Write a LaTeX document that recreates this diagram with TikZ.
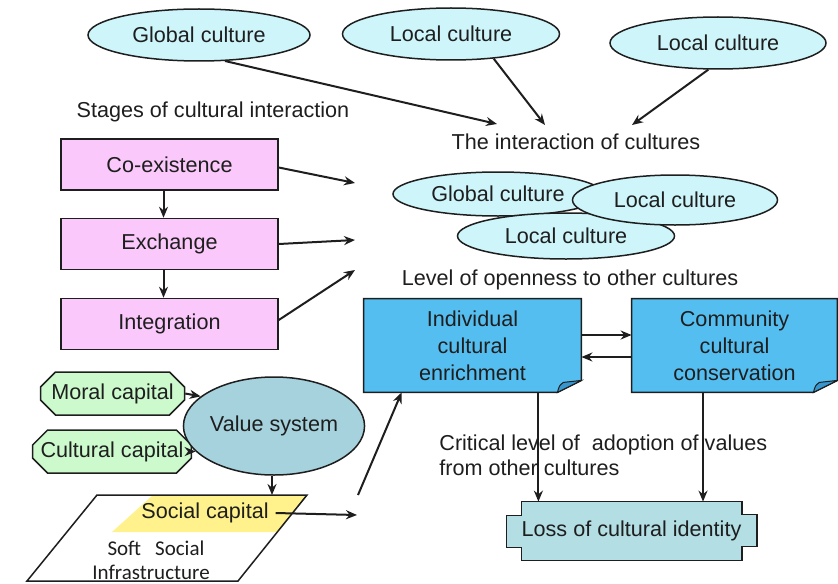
\documentclass[tikz,border=0pt]{standalone}
\usepackage{fontspec}
\setmainfont{Liberation Sans}
\newfontfamily\softfont{Carlito}
\usetikzlibrary{arrows.meta,shapes.geometric,shapes.misc,backgrounds,calc}

\definecolor{cloud}{RGB}{205,245,250}
\definecolor{stagepink}{RGB}{250,200,250}
\definecolor{capgreen}{RGB}{205,250,205}
\definecolor{valteal}{RGB}{165,210,220}
\definecolor{lossteal}{RGB}{178,222,228}
\definecolor{skyblue}{RGB}{85,190,240}
\definecolor{foldblue}{RGB}{55,150,205}
\definecolor{socyellow}{RGB}{255,242,140}
\definecolor{ink}{RGB}{30,30,30}

\tikzset{
  lbl/.style={font=\fontsize{10.8}{13}\selectfont, text=ink},
  outline/.style={draw=ink, line width=0.75pt},
  cloudnode/.style={ellipse, outline, fill=cloud, inner sep=0pt, lbl},
  stagebox/.style={rectangle, outline, fill=stagepink, minimum width=108.5pt,
    minimum height=25.5pt, lbl},
  capbox/.style={chamfered rectangle, chamfered rectangle xsep=4pt,
    chamfered rectangle ysep=3.5pt, outline, fill=capgreen, inner sep=0pt,
    minimum width=72pt, minimum height=21.5pt, lbl},
  notebox/.style={rectangle, inner sep=0pt, align=center,
    font=\fontsize{10.8}{13.5}\selectfont, text=ink},
  arr/.style={-{Stealth[length=5.5pt,width=4.5pt]}, line width=1pt, draw=ink},
}

\begin{document}
\begin{tikzpicture}[x=0.5pt,y=-0.5pt]
\useasboundingbox (0,0) rectangle (838,583);

% cultures meeting at the top
\node[cloudnode, minimum width=111pt, minimum height=26pt] (g1) at (199,35) {Global culture};
\node[cloudnode, minimum width=108.5pt, minimum height=26pt] (l1) at (451,34) {Local culture};
\node[cloudnode, minimum width=108pt, minimum height=26pt] (l2) at (718,43) {Local culture};
\node[lbl] (interact) at (576,142) {The interaction of cultures};
\coordinate (ia) at (497,124);
\coordinate (ib) at (545,125);
\coordinate (ic) at (632,125);
\draw[arr] (g1.-45) -- (ia);
\draw[arr] (l1.-30) -- (ib);
\draw[arr] (l2.-110) -- (ic);

% overlapping cultures
\node[cloudnode, minimum width=105pt, minimum height=22pt] (og) at (498,194) {Global culture};
\node[cloudnode, minimum width=108.5pt, minimum height=23pt] (ob) at (566,236) {Local culture};
\node[cloudnode, minimum width=102.5pt, minimum height=25pt] (orr) at (675,200) {Local culture};
\node[lbl] (open) at (570,280) {Level of openness to other cultures};

% stages of interaction
\node[lbl] (stages) at (213,112) {Stages of cultural interaction};
\node[stagebox] (coex) at (169.5,164.5) {Co-existence};
\node[stagebox] (exch) at (169.5,244) {Exchange};
\node[stagebox] (integ) at (169.5,324) {Integration};
\draw[arr] ([xshift=-3pt]coex.south) -- ([xshift=-3pt]exch.north);
\draw[arr] ([xshift=-3pt]exch.south) -- ([xshift=-3pt]integ.north);
\coordinate (sa) at (355,183);
\coordinate (sb) at (355,240);
\coordinate (sc) at (355,270);
\draw[arr] ([yshift=-1.5pt]coex.east) -- (sa);
\draw[arr] (exch.east) -- (sb);
\draw[arr] ([yshift=2pt]integ.east) -- (sc);

% enrichment and conservation
\node[notebox, minimum width=108.5pt, minimum height=46.5pt] (indiv) at (472.5,345.5)
  {Individual\\cultural\\enrichment};
\node[notebox, minimum width=102.5pt, minimum height=46.5pt] (comm) at (734.5,345.5)
  {Community\\cultural\\conservation};
\begin{pgfonlayer}{background}
  \foreach \b in {indiv,comm}{
    \draw[outline, fill=skyblue] (\b.north west) -- (\b.north east)
      -- ([yshift=6pt]\b.south east) -- ([xshift=-12pt]\b.south east)
      -- (\b.south west) -- cycle;
    \draw[outline, line width=0.5pt, fill=foldblue] ([xshift=-12pt]\b.south east)
      .. controls ([xshift=-11pt,yshift=3.5pt]\b.south east) .. ([xshift=-9pt,yshift=5pt]\b.south east)
      -- ([yshift=6pt]\b.south east) -- cycle;
  }
\end{pgfonlayer}
\draw[arr] ([yshift=5.25pt]indiv.east) -- ([yshift=5.25pt]comm.west);
\draw[arr] ([yshift=-5.75pt]comm.west) -- ([yshift=-5.75pt]indiv.east);

% loss of identity
\node[lbl, inner sep=0pt, minimum width=101.5pt, minimum height=29pt] (loss) at (631.5,531)
  {Loss of cultural identity};
\begin{pgfonlayer}{background}
  \draw[outline, fill=lossteal] (loss.north west) -- (loss.north east)
    -- ++(0,-6.5pt) -- ++(7.5pt,0) -- ++(0,-16pt) -- ++(-7.5pt,0)
    -- (loss.south east) -- (loss.south west)
    -- ++(0,6.5pt) -- ++(-7.5pt,0) -- ++(0,16pt) -- ++(7.5pt,0) -- cycle;
\end{pgfonlayer}
\node[lbl, anchor=west, align=left, inner sep=0pt, font=\fontsize{10.8}{12.5}\selectfont] (crit) at (439,455)
  {Critical level of\ \ adoption of values\\from other cultures};
\coordinate (ia1) at ($(indiv.south east)+(-21.5pt,0)$);
\coordinate (cb1) at ($(comm.south)+(-15.75pt,0)$);
\draw[arr] (ia1) -- (ia1 |- loss.north);
\draw[arr] (cb1) -- (cb1 |- loss.north);

% capitals and values
\node[capbox] (moral) at (112.5,393.5) {Moral capital};
\node[capbox] (cult) at (112,451.5) {Cultural capital};
\node[ellipse, outline, fill=valteal, inner sep=0pt, minimum width=76pt,
  minimum height=49pt, lbl] (value) at (274,426) {Value system};
\draw[arr] (moral.east) -- (value.158);
\draw[arr] (cult.east) -- (value.-162);

% soft social infrastructure
\fill[white] (97,495) -- (307,495) -- (238,581) -- (27,581) -- cycle;
\fill[socyellow] (153,495) -- (307,495) -- (278,532) -- (112,532) -- cycle;
\draw[outline] (97,495) -- (307,495) -- (238,581) -- (27,581) -- cycle;
\coordinate (infratop) at (272,495);
\draw[arr] (value.south -| infratop) -- (infratop);
\node[lbl] (social) at (205,513) {Social capital};
\node[font=\softfont\fontsize{10.5}{12}\selectfont, text=ink] (soft) at (156,548)
  {Soft\hspace{7pt}Social};
\node[font=\softfont\fontsize{10.5}{12}\selectfont, text=ink] (infra) at (151,572)
  {Infrastructure};
\coordinate (sd) at (357,515);
\draw[arr] (social.east) -- (sd);
\coordinate (se) at (358,495);
\draw[arr] (se) -- ([xshift=19pt]indiv.south west);
\end{tikzpicture}
\end{document}
